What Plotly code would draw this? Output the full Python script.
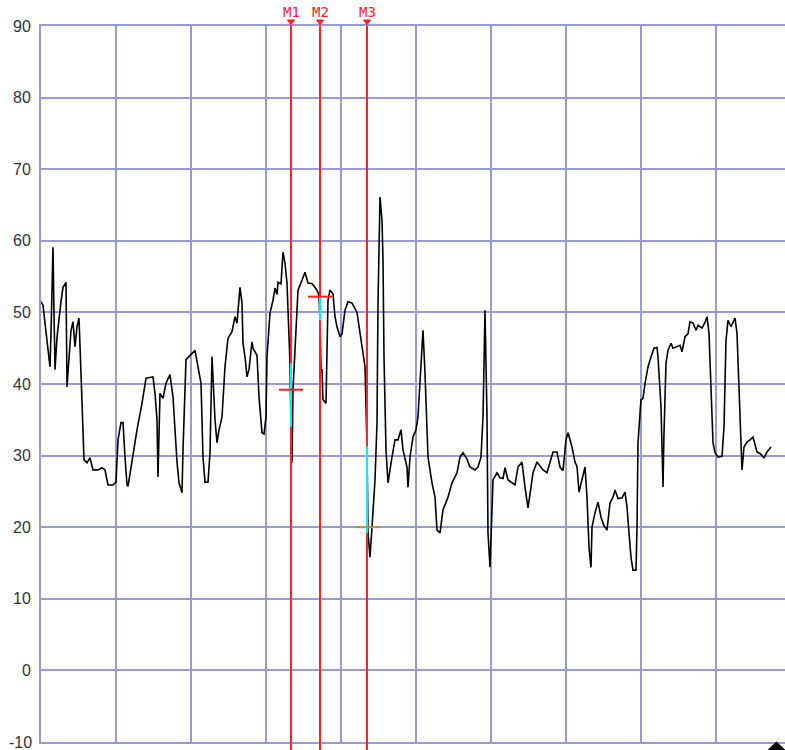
import plotly.graph_objects as go

# ---- data (time axis: one grid division = 75 units) ----
t = [0, 2, 4, 6, 8, 9, 10, 11, 12, 13, 14, 16, 18, 20, 22, 25, 26, 28, 30, 32, 34, 36, 38, 40,
     42, 43, 46, 49, 52, 57, 61, 64, 67, 72, 75, 77, 80, 82, 84, 86, 87, 91, 96, 101, 105, 112,
     114, 116, 117, 119, 122, 125, 129, 132, 134, 136, 138, 141, 142, 145, 149, 154, 157, 160,
     162, 164, 167, 169, 171, 172, 174, 176, 178, 181, 184, 187, 191, 194, 196, 199, 201, 202,
     204, 206, 208, 211, 212, 216, 218, 221, 223, 225, 226, 229, 232, 234, 236, 237, 240, 242,
     244, 246, 247, 249, 250, 251, 252, 254, 256, 257, 261, 264, 267, 271, 274, 277, 278, 279,
     280, 281, 282, 285, 287, 289, 292, 294, 296, 299, 301, 304, 307, 311, 316, 318, 321, 324,
     326, 327, 328, 329, 331, 332, 334, 336, 337, 339, 341, 342, 343, 345, 347, 351, 354, 357,
     360, 362, 366, 367, 369, 372, 375, 377, 379, 381, 382, 384, 386, 387, 391, 394, 396, 399,
     402, 407, 411, 416, 419, 422, 426, 429, 434, 437, 440, 442, 444, 446, 447, 449, 451, 452,
     456, 459, 462, 464, 467, 471, 474, 477, 481, 484, 487, 490, 492, 496, 499, 502, 506, 509,
     512, 516, 519, 522, 523, 525, 527, 531, 534, 536, 538, 541, 544, 546, 548, 550, 551, 554,
     557, 560, 563, 566, 569, 572, 574, 577, 581, 584, 586, 588, 590, 592, 595, 596, 597, 600,
     602, 604, 607, 610, 613, 616, 617, 620, 621, 622, 623, 625, 627, 630, 632, 636, 639, 641,
     644, 647, 649, 652, 655, 657, 661, 664, 666, 668, 670, 672, 674, 677, 681, 683, 685, 687,
     690, 692, 694, 696, 698, 700, 701, 703, 706, 709, 712, 716, 719, 723, 726, 730]
value = [51.5, 51.0, 48.5, 46.0, 43.5, 42.4, 47.0, 53.0, 59.1, 50.0, 42.0, 46.5, 49.5, 51.5, 53.5,
         54.2, 39.6, 44.0, 47.5, 48.7, 45.2, 48.0, 49.2, 41.5, 33.6, 29.4, 29.0, 29.7, 28.0, 28.0,
         28.3, 28.0, 25.9, 25.9, 26.3, 32.2, 34.6, 34.6, 29.8, 25.9, 25.7, 29.4, 33.6, 37.3, 40.8,
         41.0, 38.7, 35.0, 27.0, 38.7, 38.0, 40.1, 41.3, 38.2, 33.6, 29.1, 26.2, 24.8, 30.8, 43.4,
         44.0, 44.7, 42.4, 40.1, 29.8, 26.3, 26.3, 30.4, 43.8, 40.0, 35.0, 31.8, 33.6, 35.4, 42.4,
         46.4, 47.3, 49.4, 48.5, 53.5, 51.3, 45.7, 43.8, 41.0, 42.0, 45.9, 45.0, 44.0, 38.2, 33.2,
         33.0, 35.4, 43.8, 49.9, 51.7, 53.4, 52.5, 54.2, 54.0, 58.4, 56.9, 54.1, 50.3, 42.9, 34.0,
         29.0, 39.2, 45.2, 50.3, 53.1, 54.5, 55.6, 54.1, 54.0, 53.5, 52.8, 52.2, 48.9, 42.0, 42.0,
         37.8, 37.3, 51.7, 53.1, 52.6, 49.4, 48.0, 46.6, 47.0, 50.3, 51.5, 51.3, 50.0, 48.0, 45.2,
         42.4, 31.3, 19.2, 17.5, 15.8, 20.0, 22.0, 26.6, 34.6, 51.3, 66.1, 62.9, 57.3, 43.8, 30.8,
         26.2, 29.8, 32.2, 32.2, 33.6, 30.8, 28.4, 25.6, 29.8, 32.6, 33.6, 35.4, 40.1, 44.7, 47.5,
         41.5, 34.6, 29.8, 26.2, 24.2, 19.6, 19.2, 22.4, 24.2, 26.2, 27.6, 29.8, 30.4, 29.5, 28.4,
         28.0, 28.4, 29.8, 35.4, 50.3, 35.4, 19.2, 14.4, 22.4, 26.6, 27.6, 26.9, 26.8, 28.3, 26.6,
         26.2, 25.9, 28.4, 29.1, 25.6, 22.7, 25.6, 27.6, 29.1, 28.5, 28.0, 27.6, 28.9, 30.5, 30.5,
         28.4, 27.9, 29.8, 32.2, 33.2, 31.2, 29.1, 28.5, 24.9, 26.6, 28.4, 24.2, 17.2, 14.4, 20.0,
         22.0, 23.5, 21.4, 20.2, 19.6, 23.4, 24.2, 25.2, 24.0, 24.1, 24.9, 22.8, 19.2, 15.8, 14.0,
         14.0, 20.0, 31.8, 37.8, 38.0, 40.1, 42.4, 43.8, 45.0, 45.1, 43.8, 36.8, 29.4, 25.6, 33.2,
         42.9, 44.7, 45.7, 45.0, 45.2, 45.4, 44.5, 46.6, 47.0, 48.7, 48.5, 47.5, 48.2, 47.8, 48.6,
         49.4, 47.1, 39.6, 31.8, 30.4, 29.8, 29.9, 34.0, 46.1, 48.9, 48.0, 48.6, 49.2, 47.1, 40.1,
         31.8, 28.0, 31.2, 31.9, 32.2, 32.6, 30.5, 30.3, 29.7, 30.5, 31.2]

y_ticks = [-10, 0, 10, 20, 30, 40, 50, 60, 70, 80, 90]

marker_names = ["M1", "M2", "M3"]
marker_t = [250, 279, 326]
marker_level = [39.2, 52.2, 20.0]          # crosshair level
cyan_top = [42.9, 52.2, 31.3]              # highlighted segment at each marker
cyan_bottom = [34.0, 48.9, 19.2]
cross_colors = ["#FF2020", "#FF2020", "#A89A50"]

GRID = "#9A9AD2"
RED = "#FF2020"
TICKFONT = dict(family="Liberation Sans", size=16, color="#333333")

fig = go.Figure()

fig.add_trace(go.Scatter(x=t, y=value, mode="lines",
                         line=dict(color="black", width=1.6),
                         hoverinfo="skip", showlegend=False))

shapes = []
for i, mt in enumerate(marker_t):
    shapes.append(dict(type="line", xref="x", yref="paper", x0=mt, x1=mt, y0=-0.02, y1=1,
                       line=dict(color=RED, width=2), layer="above"))
    shapes.append(dict(type="line", xref="x", yref="y", x0=mt, x1=mt,
                       y0=cyan_bottom[i], y1=cyan_top[i],
                       line=dict(color="#00F0FF", width=2), layer="above"))
    shapes.append(dict(type="line", xref="x", yref="y", x0=mt - 12, x1=mt + 12,
                       y0=marker_level[i], y1=marker_level[i],
                       line=dict(color=cross_colors[i], width=2), layer="above"))
    # small down-pointing flag above the plot
    shapes.append(dict(type="path", xref="x", yref="paper",
                       path=f"M {mt - 3.5},{1 + 6 / 716} L {mt + 3.5},{1 + 6 / 716} L {mt},{1 + 1 / 716} Z",
                       fillcolor=RED, line=dict(color=RED, width=1), layer="above"))

# black triangle at bottom-right edge
shapes.append(dict(type="path", xref="paper", yref="paper",
                   path="M 0.977,-0.0115 L 0.9885,0.0 L 1.0,-0.0115 Z",
                   fillcolor="black", line=dict(color="black", width=1), layer="above"))

annotations = [dict(x=mt, y=1, xref="x", yref="paper", text=name, showarrow=False,
                    yanchor="bottom", yshift=4,
                    font=dict(family="DejaVu Sans Mono", size=14, color=RED))
               for mt, name in zip(marker_t, marker_names)]
# bottom tick label drawn as text so it is not dropped at the figure edge
annotations.append(dict(x=0, y=y_ticks[0], xref="paper", yref="y", text=str(y_ticks[0]),
                        showarrow=False, xanchor="right", yanchor="middle", xshift=-7,
                        font=TICKFONT))

fig.update_layout(
    width=785, height=750,
    margin=dict(l=41, r=0, t=26, b=8),
    paper_bgcolor="white", plot_bgcolor="white",
    shapes=shapes, annotations=annotations,
    xaxis=dict(range=[0, 744], tick0=0, dtick=75, showgrid=True, gridcolor=GRID, gridwidth=2,
               showticklabels=False, ticks="", zeroline=False,
               showline=True, linecolor=GRID, linewidth=2, mirror=True, fixedrange=True),
    yaxis=dict(range=[-10, 90], tickvals=y_ticks[1:], showgrid=True, gridcolor=GRID, gridwidth=2,
               ticks="outside", ticklen=5, tickcolor="rgba(0,0,0,0)", zeroline=False,
               showline=True, linecolor=GRID, linewidth=2, mirror=False,
               tickfont=TICKFONT, fixedrange=True),
)

fig.write_html("out.html", post_script="document.body.style.margin='0';",
               config={"displayModeBar": False})
